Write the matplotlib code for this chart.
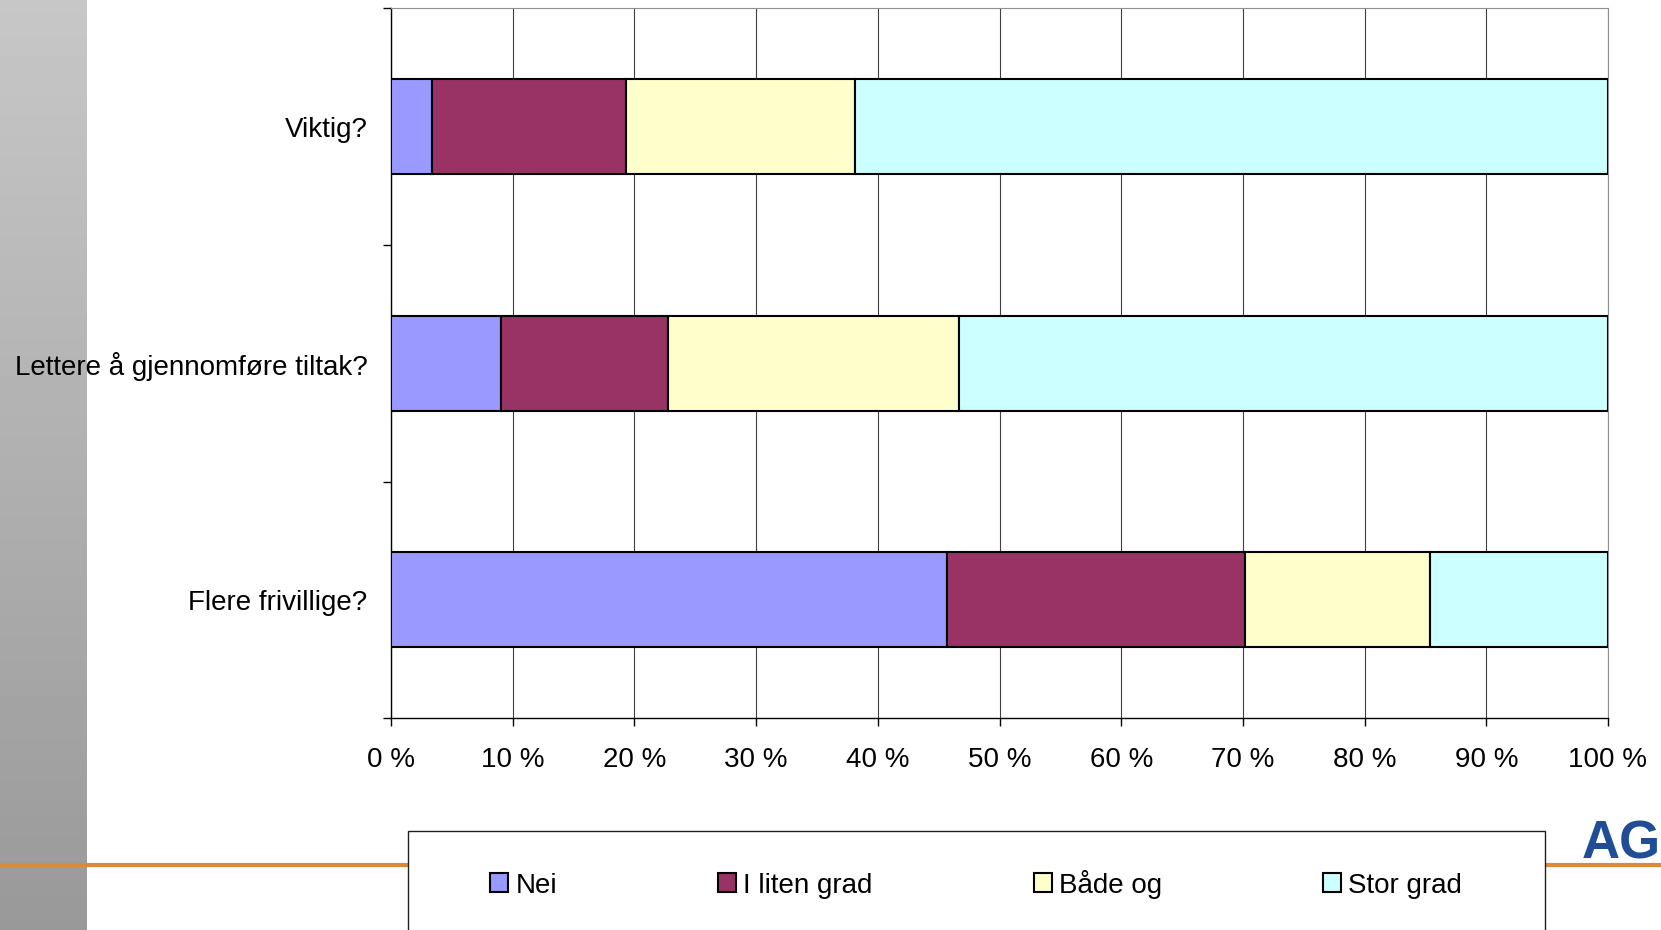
import numpy as np
import matplotlib
matplotlib.use("Agg")
import matplotlib.pyplot as plt
from matplotlib.patches import Patch, Rectangle

plt.rcParams.update({"font.family": ["Liberation Sans", "DejaVu Sans"], "font.size": 20})

questions = ["Viktig?", "Lettere å gjennomføre tiltak?", "Flere frivillige?"]
series = ["Nei", "I liten grad", "Både og", "Stor grad"]
nei = [3.4, 9.0, 45.7]
liten = [15.9, 13.8, 24.5]
begge = [18.8, 23.9, 15.2]
stor = [61.9, 53.3, 14.6]
colors = ["#9999FF", "#993366", "#FFFFCC", "#CCFFFF"]
xticks = np.arange(0, 101, 10)

fig = plt.figure(figsize=(16.61, 9.30), dpi=100)

# grey gradient strip on the left
strip = fig.add_axes([0, 0, 87 / 1661, 1])
grad = np.linspace(0.78, 0.60, 200).reshape(-1, 1)
strip.imshow(grad, aspect="auto", cmap="gray", vmin=0, vmax=1, extent=[0, 1, 0, 1])
strip.axis("off")
strip.set_zorder(-2)

# orange rule and logo
fig.add_artist(plt.Line2D([0, 1], [1 - 865 / 930] * 2, color="#D98A3A", lw=3, zorder=-1))
fig.text(1582 / 1661, 1 - 858 / 930, "AG", color="#1F4E96", fontsize=38,
         fontweight="bold", ha="left", va="baseline")

ax = fig.add_axes([391 / 1661, 1 - 718 / 930, 1217 / 1661, 709.5 / 930])
ypos = np.arange(len(questions))[::-1]
left = np.zeros(len(questions))
for vals, c, name in zip([nei, liten, begge, stor], colors, series):
    ax.barh(ypos, vals, left=left, height=0.4, color=c, edgecolor="black", lw=1.5,
            label=name, zorder=3)
    left += np.array(vals)

ax.set_xlim(0, 100)
ax.set_ylim(-0.5, len(questions) - 0.5)
ax.set_xticks(xticks)
ax.set_xticklabels([f"{t} %" for t in xticks])
ax.set_yticks(ypos)
ax.set_yticklabels(questions)
ax.set_yticks(np.arange(-0.5, len(questions)), minor=True)
ax.tick_params(axis="y", which="major", length=0, pad=17)
ax.tick_params(axis="y", which="minor", length=6, width=1)
ax.tick_params(axis="x", length=6, width=1, pad=15)
ax.grid(axis="x", color="#404040", lw=0.8, zorder=0)
ax.set_axisbelow(True)
for s in ["top", "right"]:
    ax.spines[s].set_color("#909090")
for s in ["left", "bottom"]:
    ax.spines[s].set_color("black")
    ax.spines[s].set_linewidth(1.0)

# legend box running off the bottom
fig.add_artist(Rectangle((408 / 1661, -0.05), 1137 / 1661, 0.05 + 1 - 831 / 930,
                         transform=fig.transFigure, facecolor="white", edgecolor="#202020",
                         lw=1, zorder=1))
handles = [Patch(facecolor=c, edgecolor="black", lw=1.5) for c in colors]
leg = fig.legend(handles, series, loc="center", bbox_to_anchor=(976 / 1661, 1 - 884 / 930),
                 ncol=4, frameon=False, handlelength=0.65, handleheight=0.65,
                 handletextpad=0.25, columnspacing=5.8, fontsize=20)
leg.set_zorder(2)

fig.savefig("out.png", dpi=100)
